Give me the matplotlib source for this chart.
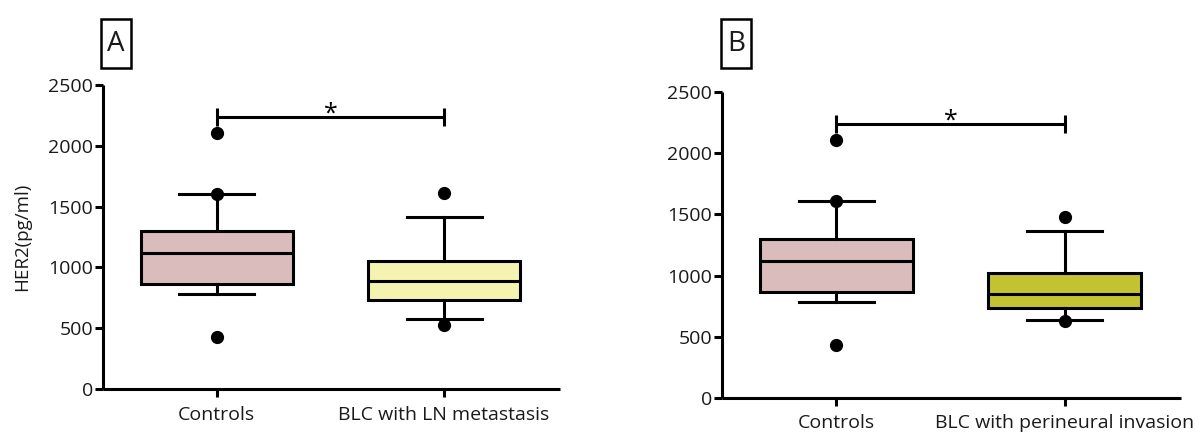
import matplotlib
matplotlib.use("Agg")
import matplotlib.pyplot as plt
from matplotlib.patches import Rectangle

plt.rcParams['font.family'] = ['Open Sans', 'DejaVu Sans']

# ---- data ----
categories_a = ["Controls", "BLC with LN metastasis"]
categories_b = ["Controls", "BLC with perineural invasion"]

# panel A stats: [Controls, BLC]
a_q1 = [866, 732]
a_med = [1121, 888]
a_q3 = [1302, 1053]
a_whislo = [779, 576]
a_whishi = [1606, 1412]
a_fliers = [[2108, 1606, 430], [1609, 526]]

# panel B stats
b_q1 = [868, 737]
b_med = [1123, 846]
b_q3 = [1299, 1024]
b_whislo = [781, 634]
b_whishi = [1610, 1365]
b_fliers = [[2108, 1608, 431], [1480, 626]]

sig_y_a = 2236
sig_y_b = 2240
yticks = [0, 500, 1000, 1500, 2000, 2500]
ylabel = "HER2(pg/ml)"
panel_labels = ["A", "B"]
colors_a = ["#dbbcbc", "#f5f3b0"]
colors_b = ["#dbbcbc", "#c3c332"]

LW = 2.2

fig = plt.figure(figsize=(12.01, 4.33), dpi=100)
axA = fig.add_axes([103/1201, 1-389/433, 457/1201, 304/433])
axB = fig.add_axes([722/1201, 1-397.7/433, 459/1201, 305.4/433])


def draw(ax, cats, q1, med, q3, lo, hi, fl, cols, sig_y):
    stats = []
    for i in range(len(cats)):
        stats.append(dict(q1=q1[i], med=med[i], q3=q3[i], whislo=lo[i],
                          whishi=hi[i], fliers=fl[i], label=cats[i]))
    bp = ax.bxp(stats, positions=[1, 2], widths=0.67, capwidths=0.33,
                patch_artist=True, showfliers=True,
                boxprops=dict(linewidth=LW, edgecolor='black'),
                medianprops=dict(color='black', linewidth=LW),
                whiskerprops=dict(color='black', linewidth=LW),
                capprops=dict(color='black', linewidth=LW),
                flierprops=dict(marker='o', markerfacecolor='black',
                                markeredgecolor='black', markersize=8.5))
    for patch, c in zip(bp['boxes'], cols):
        patch.set_facecolor(c)
        patch.set_joinstyle('miter')
    ax.set_xlim(0.5, 2.51)
    ax.set_ylim(0, 2500)
    ax.set_yticks(yticks)
    ax.set_yticklabels([str(t) for t in yticks], fontsize=14)
    ax.set_xticks([1, 2])
    ax.set_xticklabels(cats, fontsize=14)
    for s in ['top', 'right']:
        ax.spines[s].set_visible(False)
    for s in ['left', 'bottom']:
        ax.spines[s].set_linewidth(LW)
        ax.spines[s].set_capstyle('butt')
    ax.tick_params(axis='both', direction='out', length=6, width=LW,
                   colors='black', labelcolor='#1a1a1a')
    ax.tick_params(axis='y', pad=1)
    ax.tick_params(axis='x', pad=6)
    # significance bar
    dy = 72
    ax.plot([1, 2], [sig_y, sig_y], color='black', lw=LW, solid_capstyle='butt')
    ax.plot([1, 1], [sig_y - dy, sig_y + dy], color='black', lw=LW, solid_capstyle='butt')
    ax.plot([2, 2], [sig_y - dy, sig_y + dy], color='black', lw=LW, solid_capstyle='butt')
    ax.text(1.5, sig_y - 75, "*", ha='center', va='bottom', fontsize=18)


draw(axA, categories_a, a_q1, a_med, a_q3, a_whislo, a_whishi, a_fliers, colors_a, sig_y_a)
draw(axB, categories_b, b_q1, b_med, b_q3, b_whislo, b_whishi, b_fliers, colors_b, sig_y_b)
axA.set_ylabel(ylabel, fontsize=13.5, labelpad=12, color='#1a1a1a')

# panel label boxes
for lbl, x0 in zip(panel_labels, [101, 721]):
    fig.patches.append(Rectangle((x0/1201, 1-68/433), 30/1201, 49/433,
                                 transform=fig.transFigure, fill=False,
                                 edgecolor='black', linewidth=1.8))
    fig.text((x0+15)/1201, 1-44/433, lbl, ha='center', va='center', fontsize=20,
             color='#1a1a1a')

fig.savefig("out.png", dpi=100)
